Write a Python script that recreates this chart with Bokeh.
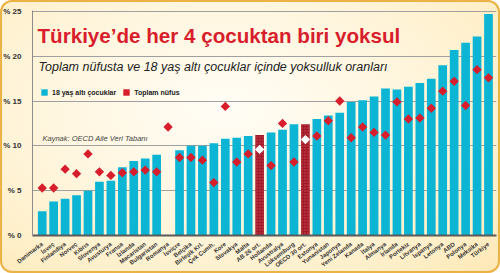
import math
from bokeh.plotting import figure
from bokeh.models import (FixedTicker, Label, Legend, LegendItem,
                          ColumnDataSource, Range1d)
from bokeh.embed import file_html
from bokeh.resources import INLINE

# ---- data ----
countries = ["Danimarka", "İsveç", "Finlandiya", "Norveç", "Kıbrıs", "Slovenya",
             "Avusturya", "Fransa", "İzlanda", "Macaristan", "Bulgaristan", "Romanya",
             "İsviçre", "Belçika", "Birleşik Krl.", "Çek Cumh.", "Kore", "Slovakya",
             "Malta", "AB 26 ort.", "Hollanda", "Avustralya", "Lüksemburg",
             "OECD 30 ort.", "Estonya", "Yunanistan", "Japonya", "Yeni Zelanda",
             "Kanada", "İtalya", "Almanya", "İrlanda", "Portekiz", "Litvanya",
             "İspanya", "Letonya", "ABD", "Polonya", "Meksika", "Türkiye"]
child_rates = [2.7, 3.8, 4.1, 4.5, 5.0, 6.0, 6.1, 7.6, 8.3, 8.6, 9.0, float("nan"),
               9.5, 10.0, 10.0, 10.3, 10.8, 10.9, 11.1, 11.2, 11.5, 11.8, 12.4,
               12.4, 13.0, 13.4, 13.7, 14.9, 15.1, 15.5, 16.4, 16.3, 16.6, 17.0,
               17.5, 19.0, 20.7, 21.5, 22.2, 24.7]
total_rates = [5.3, 5.3, 7.4, 6.9, 9.1, 7.1, 6.7, 7.0, 7.1, 7.3, 7.1, 12.1,
               8.7, 8.7, 8.4, 5.9, 14.4, 8.2, 9.1, 9.6, 7.8, 12.5, 8.2,
               10.7, 11.1, 12.8, 15.0, 10.9, 12.1, 11.5, 11.2, 14.9, 13.0, 13.1,
               14.2, 16.1, 17.2, 14.5, 18.5, 17.6]
averages = ["AB 26 ort.", "OECD 30 ort."]
y_ticks = [0, 5, 10, 15, 20, 25]
y_tick_labels = ["% 0", "% 5", "% 10", "% 15", "% 20", "% 25"]

title_text = "Türkiye’de her 4 çocuktan biri yoksul"
subtitle_text = "Toplam nüfusta ve 18 yaş altı çocuklar içinde yoksulluk oranları"
source_text = "Kaynak: OECD Aile Veri Tabanı"
legend_labels = ["18 yaş altı çocuklar", "Toplam nüfus"]

# ---- styles ----
CYAN = "#0BB5D3"
DARKRED = "#A51A2A"
RED = "#D81E2C"
FONT = "Liberation Sans"

xs = list(range(len(countries)))
is_avg = [c in averages for c in countries]
src = ColumnDataSource(dict(
    x=xs, child=child_rates, total=total_rates,
    bar_color=[DARKRED if a else CYAN for a in is_avg],
    hatch=["dot" if a else " " for a in is_avg],
    dia_color=["white" if a else RED for a in is_avg],
))

p = figure(width=500, height=273, output_backend="svg", toolbar_location=None,
           x_range=Range1d(-0.85, 39.7), y_range=Range1d(0, 25.1),
           min_border_left=30, min_border_right=4, min_border_top=10,
           min_border_bottom=36)
p.border_fill_color = None
p.background_fill_color = None
p.outline_line_color = None
p.styles = {
    "background": "radial-gradient(ellipse at 45% 40%, #FFFDF6 0%, #FFF6DF 45%, #FFEFC8 80%, #FDE7B4 100%)",
    "border-radius": "12px",
    "box-shadow": "inset 0 0 0 2px #EDB245",
}

bars = p.vbar(x="x", top="child", width=0.76, source=src, fill_color="bar_color",
              line_color=None, hatch_pattern="hatch", hatch_color="#E58A8A",
              hatch_scale=3, hatch_weight=1, hatch_alpha=0.45)
# diamonds: rotated squares of fixed screen size
dias = p.rect(x="x", y="total", width=6.6, height=6.6, width_units="screen",
              height_units="screen", angle=math.pi / 4, source=src,
              fill_color="dia_color", line_color=None)

# axes
p.yaxis.ticker = FixedTicker(ticks=y_ticks)
p.yaxis.major_label_overrides = {t: l for t, l in zip(y_ticks, y_tick_labels)}
p.yaxis.major_tick_line_color = None
p.yaxis.minor_tick_line_color = None
p.yaxis.axis_line_color = "#8C8C8C"
p.yaxis.major_label_text_font = FONT
p.yaxis.major_label_text_font_style = "bold"
p.yaxis.major_label_text_font_size = "8px"
p.yaxis.major_label_text_color = "#333333"
p.yaxis.major_label_standoff = 5

p.xaxis.ticker = FixedTicker(ticks=xs)
p.xaxis.major_label_overrides = {i: c for i, c in zip(xs, countries)}
p.xaxis.major_label_orientation = 0.65
p.xaxis.major_tick_line_color = None
p.xaxis.minor_tick_line_color = None
p.xaxis.axis_line_color = "#5A5A5A"
p.xaxis.axis_line_width = 2
p.xaxis.major_label_text_font = FONT
p.xaxis.major_label_text_font_style = "bold"
p.xaxis.major_label_text_font_size = "6px"
p.xaxis.major_label_text_color = "#333333"
p.xaxis.major_label_standoff = 2

p.xgrid.grid_line_color = None
p.ygrid.ticker = FixedTicker(ticks=y_ticks)
p.ygrid.grid_line_color = "#A0A0A0"
p.ygrid.grid_line_width = 1

# texts
p.add_layout(Label(x=37, y=35, x_units="canvas", y_units="canvas", text=title_text,
                   text_font=FONT, text_font_style="bold", text_font_size="20.6px",
                   text_color="#D81E2C", text_baseline="middle"))
p.add_layout(Label(x=38, y=66, x_units="canvas", y_units="canvas", text=subtitle_text,
                   text_font=FONT, text_font_style="italic", text_font_size="12.5px",
                   text_color="#222222", text_baseline="middle"))
p.add_layout(Label(x=42, y=137.5, x_units="canvas", y_units="canvas", text=source_text,
                   text_font=FONT, text_font_style="italic", text_font_size="7.5px",
                   text_color="#444444", text_baseline="middle"))

legend = Legend(items=[LegendItem(label=legend_labels[0], renderers=[bars]),
                       LegendItem(label=legend_labels[1], renderers=[dias])],
                location=(8, 139), orientation="horizontal",
                glyph_width=8, glyph_height=8, label_height=8, label_width=10,
                label_standoff=4, spacing=6, padding=0, margin=0,
                border_line_color=None, background_fill_alpha=0,
                label_text_font=FONT, label_text_font_style="bold",
                label_text_font_size="7px", label_text_color="#222222")
p.add_layout(legend)

open("out.html", "w").write(file_html(p, INLINE))
